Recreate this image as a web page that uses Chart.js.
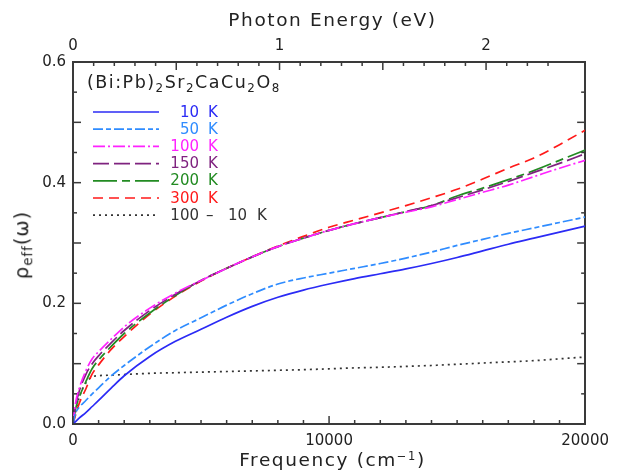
<!DOCTYPE html>
<html><head><meta charset="utf-8">
<script src="https://cdn.jsdelivr.net/npm/chart.js@4/dist/chart.umd.min.js"></script>
<style>
html,body{margin:0;padding:0;background:#fff;}
#wrap{position:relative;width:617px;height:472px;font-family:"DejaVu Sans",sans-serif;color:#222;overflow:hidden;}
canvas{position:absolute;left:0;top:0;}
.t{position:absolute;white-space:nowrap;line-height:1;}
sub{font-size:0.68em;vertical-align:-0.32em;line-height:0;}
sup{font-size:0.62em;vertical-align:0.55em;line-height:0;}
</style></head><body>
<div id="wrap">
<canvas id="c" width="617" height="472"></canvas>
<div class="t" id="topTitle" style="left:0;width:665px;text-align:center;top:11px;font-size:18.5px;letter-spacing:1.6px;">Photon Energy (eV)</div>
<div class="t" id="botTitle" style="left:0;width:665px;text-align:center;top:451px;font-size:18.5px;letter-spacing:1.6px;">Frequency (cm<sup>&minus;1</sup>)</div>
<div class="t" id="yTitle" style="left:22px;top:245px;font-size:19.5px;letter-spacing:1px;transform:translate(-50%,-50%) rotate(-90deg);">&rho;<sub>eff</sub>(&omega;)</div>
<div class="t" id="legTitle" style="left:87px;top:73.5px;font-size:17.5px;letter-spacing:1.5px;">(Bi:Pb)<sub>2</sub>Sr<sub>2</sub>CaCu<sub>2</sub>O<sub>8</sub></div>
<div id="legText"></div>
</div>
<script>
// ---- data ----
const FREQ = [0,100,250,500,750,1000,1500,2000,3000,4000,5000,6000,7000,8000,9000,10000,11000,12000,13000,14000,15000,16000,17000,18000,19000,20000];
const R10K  = [0,0.004,0.010,0.019,0.029,0.039,0.060,0.080,0.112,0.137,0.157,0.177,0.195,0.210,0.222,0.232,0.241,0.249,0.257,0.266,0.276,0.287,0.298,0.308,0.318,0.328];
const R50K  = [0,0.018,0.028,0.039,0.050,0.060,0.080,0.097,0.128,0.155,0.176,0.197,0.216,0.232,0.242,0.250,0.258,0.266,0.275,0.285,0.296,0.306,0.316,0.325,0.334,0.343];
const R100K = [0,0.035,0.060,0.088,0.108,0.120,0.141,0.161,0.192,0.217,0.238,0.258,0.277,0.294,0.308,0.321,0.332,0.342,0.351,0.360,0.372,0.384,0.396,0.410,0.424,0.437];
const R150K = [0,0.030,0.055,0.082,0.100,0.113,0.135,0.155,0.188,0.215,0.238,0.258,0.277,0.294,0.308,0.321,0.332,0.342,0.352,0.362,0.375,0.388,0.402,0.417,0.432,0.448];
const R200K = [0,0.025,0.045,0.070,0.092,0.106,0.129,0.150,0.184,0.213,0.238,0.258,0.277,0.294,0.308,0.321,0.332,0.342,0.352,0.362,0.378,0.391,0.405,0.420,0.437,0.454];
const R300K = [0,0.015,0.035,0.058,0.083,0.098,0.124,0.145,0.182,0.212,0.237,0.258,0.277,0.295,0.311,0.326,0.338,0.350,0.362,0.375,0.389,0.406,0.424,0.441,0.463,0.487];
const RDIFF = [0,0.020,0.045,0.068,0.078,0.080,0.081,0.082,0.084,0.085,0.086,0.087,0.088,0.089,0.090,0.0915,0.093,0.094,0.0955,0.097,0.099,0.101,0.103,0.105,0.108,0.111];

const SERIES_LABELS = ['10', '50', '100', '150', '200', '300', '100 \u2013 10'];
const SERIES_VALUES = [R10K, R50K, R100K, R150K, R200K, R300K, RDIFF];
const X_LABELS = [0, 10000, 20000];
const Y_LABELS = [0, 0.2, 0.4, 0.6];
const EV_LABELS = [0, 1, 2];
const CM_PER_EV = 8065.54;

// ---- styles ----
const COLORS = ['#2b2bf5', '#2f8cff', '#ff22ff', '#7f237f', '#228b22', '#ff1a1a', '#333333'];
const DASHES = [[], [10,3,5,3], [12,3,2,3], [16,5], [24,5,8,5], [10,6], [2,4]];

const datasets = SERIES_VALUES.map((vals, i) => ({
  label: SERIES_LABELS[i] + ' K',
  data: FREQ.map((f, j) => ({x: f, y: vals[j]})),
  borderColor: COLORS[i],
  borderDash: DASHES[i],
  borderWidth: 1.7,
  pointRadius: 0,
  fill: false,
  cubicInterpolationMode: 'monotone',
  xAxisID: 'x', yAxisID: 'y'
}));

const near = (v, step) => Math.abs(v / step - Math.round(v / step)) < 1e-6;
const TICKFONT = {family: 'DejaVu Sans', size: 15};
const BORDER = {display: true, color: '#3a3a3a', width: 2};

const innerTicks = {
  id: 'innerTicks',
  afterDraw(chart) {
    const ctx = chart.ctx, a = chart.chartArea;
    ctx.save();
    ctx.strokeStyle = '#3a3a3a';
    ctx.lineWidth = 1.5;
    const draw = (scale, majorStep, side) => {
      scale.ticks.forEach(t => {
        const p = scale.getPixelForValue(t.value);
        const len = near(t.value, majorStep) ? 8 : 4;
        ctx.beginPath();
        if (side === 'bottom') { ctx.moveTo(p, a.bottom); ctx.lineTo(p, a.bottom - len); }
        if (side === 'top') { ctx.moveTo(p, a.top); ctx.lineTo(p, a.top + len); }
        if (side === 'left') { ctx.moveTo(a.left, p); ctx.lineTo(a.left + len, p); }
        if (side === 'right') { ctx.moveTo(a.right, p); ctx.lineTo(a.right - len, p); }
        ctx.stroke();
      });
    };
    draw(chart.scales.x, 10000, 'bottom');
    draw(chart.scales.x2, 0.5, 'top');
    draw(chart.scales.y, 0.1, 'left');
    draw(chart.scales.y2, 0.1, 'right');
    ctx.restore();
  }
};

const LEG_X0 = 93, LEG_X1 = 159, LEG_Y0 = 112, LEG_DY = 17.2;
const legendLines = {
  id: 'legendLines',
  afterDraw(chart) {
    const ctx = chart.ctx;
    ctx.save();
    chart.data.datasets.forEach((ds, i) => {
      const y = LEG_Y0 + i * LEG_DY;
      ctx.strokeStyle = ds.borderColor;
      ctx.lineWidth = ds.borderWidth;
      ctx.setLineDash(ds.borderDash);
      ctx.beginPath(); ctx.moveTo(LEG_X0, y); ctx.lineTo(LEG_X1, y); ctx.stroke();
    });
    ctx.restore();
  }
};

// legend text (HTML)
const legText = document.getElementById('legText');
SERIES_LABELS.forEach((lab, i) => {
  const y = LEG_Y0 + i * LEG_DY - 7.5;
  const parts = lab.split(' ');
  const mk = (txt, style) => {
    const d = document.createElement('div');
    d.className = 't';
    d.style.cssText = 'font-size:15px;color:' + COLORS[i] + ';top:' + y + 'px;' + style;
    d.textContent = txt;
    legText.appendChild(d);
  };
  mk(parts[0], 'left:150px;width:49px;text-align:right;');
  if (parts.length > 1) {
    mk(parts[1], 'left:206px;');
    mk(parts[2], 'left:228px;');
    mk('K', 'left:257px;');
  } else {
    mk('K', 'left:208px;');
  }
});

new Chart(document.getElementById('c'), {
  type: 'line',
  data: {datasets},
  options: {
    responsive: false,
    animation: false,
    layout: {padding: 0},
    plugins: {legend: {display: false}, tooltip: {enabled: false}},
    scales: {
      x: {
        type: 'linear', position: 'bottom', min: 0, max: 20000,
        grid: {display: false, drawTicks: false}, border: BORDER,
        ticks: {stepSize: 1000, autoSkip: false, maxRotation: 0, padding: 8, color: '#222', font: TICKFONT,
          callback: v => X_LABELS.some(l => Math.abs(l - v) < 1e-6) ? String(v) : ''},
        afterFit: s => { s.height = 48; }
      },
      x2: {
        type: 'linear', position: 'top', min: 0, max: 20000 / CM_PER_EV,
        grid: {display: false, drawTicks: false}, border: BORDER,
        ticks: {stepSize: 0.1, autoSkip: false, maxRotation: 0, padding: 7, color: '#222', font: TICKFONT,
          callback: v => EV_LABELS.some(l => Math.abs(l - v) < 1e-6) ? String(Math.round(v)) : ''},
        afterFit: s => { s.height = 62; }
      },
      y: {
        type: 'linear', position: 'left', min: 0, max: 0.6,
        grid: {display: false, drawTicks: false}, border: BORDER,
        ticks: {stepSize: 0.05, autoSkip: false, padding: 7, color: '#222', font: TICKFONT,
          callback: v => Y_LABELS.some(l => Math.abs(l - v) < 1e-6) ? v.toFixed(1) : ''},
        afterFit: s => { s.width = 73; }
      },
      y2: {
        type: 'linear', position: 'right', min: 0, max: 0.6,
        grid: {display: false, drawTicks: false}, border: BORDER,
        ticks: {stepSize: 0.05, autoSkip: false, display: false},
        afterFit: s => { s.width = 25; }
      }
    }
  },
  plugins: [innerTicks, legendLines]
});
</script>
</body></html>
